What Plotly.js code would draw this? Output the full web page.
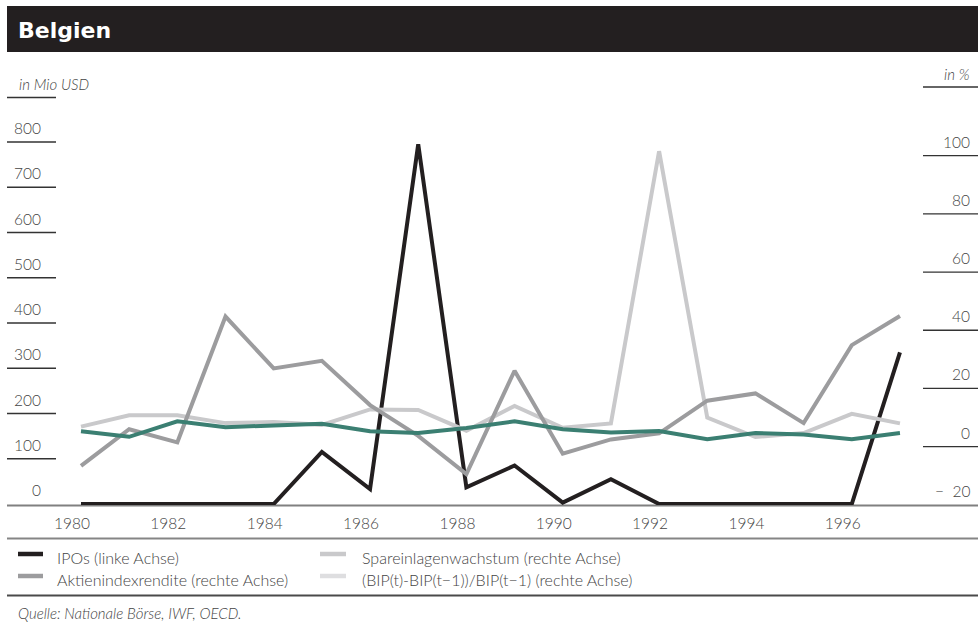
<!DOCTYPE html>
<html>
<head>
<meta charset="utf-8">
<script src="https://cdn.plot.ly/plotly-3.0.1.min.js"></script>
<style>html,body{margin:0;padding:0;background:#fff;}#chart{width:978px;height:625px;}</style>
</head>
<body>
<div id="chart"></div>
<script>
// ---- data ----
const years = [1980,1981,1982,1983,1984,1985,1986,1987,1988,1989,1990,1991,1992,1993,1994,1995,1996,1997];
const ipos = [0,0,0,0,0,115,33,795,37,85,3,55,0,0,0,0,0,335];
const aktienindexrendite = [-6.6,6.0,1.5,44.7,26.9,29.5,14.3,3.7,-9.4,26.1,-2.4,2.5,4.6,15.8,18.3,8.1,34.9,44.9];
const spareinlagenwachstum = [6.9,10.8,10.8,8.1,8.5,7.5,12.8,12.6,5.5,14.0,6.5,8.0,101.5,10.0,3.3,4.7,11.3,8.0];
const bipWachstum = [5.3,3.4,8.7,6.7,7.3,7.9,5.3,4.7,6.4,8.7,6.0,4.9,5.4,2.6,4.7,4.2,2.6,4.7];

const xTickYears = [1980,1982,1984,1986,1988,1990,1992,1994,1996];
const xTickText = ['1980','1982','1984','1986','1988','1990','1992','1994','1996'];
const leftTicks = [0,100,200,300,400,500,600,700,800];
const leftTickText = ['0','100','200','300','400','500','600','700','800'];
const rightTicks = [-20,0,20,40,60,80,100];
const rightTickText = ['\u2212\u00a0\u00a020','0','20','40','60','80','100'];

const legendNames = ['IPOs (linke Achse)','Aktienindexrendite (rechte Achse)','Spareinlagenwachstum (rechte Achse)','(BIP(t)-BIP(t\u22121))/BIP(t\u22121) (rechte Achse)'];
const legendColors = ['#231f20','#9c9c9e','#c9c9cb','#dedee0'];

// ---- styling ----
const FONT = 'Lato, "Open Sans", "DejaVu Sans", sans-serif';
const TXT = '#444444';
const WT = 300;
const W = 978, ML = 7, MR = 0, MT = 100, MB = 120;
const PW = W - ML - MR, PH = 625 - MT - MB;
const px = p => (p - ML) / PW;          // pixel x -> paper x
const py = p => (625 - MB - p) / PH;    // pixel y -> paper y

const traces = [
  {x: years, y: spareinlagenwachstum, yaxis: 'y2', mode: 'lines', line: {color: '#c9c9cb', width: 4}, showlegend: false, name: legendNames[2]},
  {x: years, y: aktienindexrendite, yaxis: 'y2', mode: 'lines', line: {color: '#9c9c9e', width: 4}, showlegend: false, name: legendNames[1]},
  {x: years, y: bipWachstum, yaxis: 'y2', mode: 'lines', line: {color: '#3b7f72', width: 4}, showlegend: false, name: legendNames[3]},
  {x: years, y: ipos, yaxis: 'y', mode: 'lines', line: {color: '#231f20', width: 4}, showlegend: false, name: legendNames[0]}
];

const shapes = [];
const annotations = [];
const f = (size, extra) => Object.assign({family: FONT, size: size, color: TXT, weight: WT}, extra || {});

// title bar
shapes.push({type: 'rect', xref: 'paper', yref: 'paper', x0: px(7), x1: px(978), y0: py(52), y1: py(6), fillcolor: '#231f20', line: {width: 0}, layer: 'below'});
// baseline
shapes.push({type: 'line', xref: 'paper', yref: 'paper', x0: px(7), x1: px(978), y0: py(505.5), y1: py(505.5), line: {color: '#808080', width: 2}, layer: 'below'});
// separators
shapes.push({type: 'line', xref: 'paper', yref: 'paper', x0: px(7), x1: px(978), y0: py(538.5), y1: py(538.5), line: {color: '#858585', width: 2}});
shapes.push({type: 'line', xref: 'paper', yref: 'paper', x0: px(7), x1: px(978), y0: py(595.5), y1: py(595.5), line: {color: '#4a4a4a', width: 2}});

// left ticks
leftTicks.forEach((v, i) => {
  if (i > 0) shapes.push({type: 'line', xref: 'paper', yref: 'y', x0: px(7), x1: px(56), y0: v, y1: v, line: {color: '#333', width: 1.3}, layer: 'below'});
  annotations.push({xref: 'paper', yref: 'y', x: px(43), y: v, xanchor: 'right', yanchor: 'middle', yshift: 14, text: leftTickText[i], showarrow: false, font: f(15.5)});
});
// right ticks
rightTicks.forEach((v, i) => {
  if (i > 0) shapes.push({type: 'line', xref: 'paper', yref: 'y2', x0: px(923), x1: px(978), y0: v, y1: v, line: {color: '#333', width: 1.3}, layer: 'below'});
  annotations.push({xref: 'paper', yref: 'y2', x: px(972), y: v, xanchor: 'right', yanchor: 'middle', yshift: 14, text: rightTickText[i], showarrow: false, font: f(15.5)});
});
// axis units
shapes.push({type: 'line', xref: 'paper', yref: 'paper', x0: px(7), x1: px(56), y0: py(97.5), y1: py(97.5), line: {color: '#333', width: 1.3}});
annotations.push({xref: 'paper', yref: 'paper', x: px(17), y: py(84), xanchor: 'left', yanchor: 'middle', text: '<i>in Mio USD</i>', showarrow: false, font: f(15)});
shapes.push({type: 'line', xref: 'paper', yref: 'paper', x0: px(923), x1: px(978), y0: py(87), y1: py(87), line: {color: '#333', width: 1.3}});
annotations.push({xref: 'paper', yref: 'paper', x: px(972), y: py(74), xanchor: 'right', yanchor: 'middle', text: '<i>in %</i>', showarrow: false, font: f(15)});

// legend (manual, two columns)
const legX = [[18, 43, 55], [18, 43, 55], [320, 346, 360], [320, 346, 360]];
const legY = [554, 576, 554, 576];
legendNames.forEach((name, i) => {
  shapes.push({type: 'line', xref: 'paper', yref: 'paper', x0: px(legX[i][0]), x1: px(legX[i][1]), y0: py(legY[i]), y1: py(legY[i]), line: {color: legendColors[i], width: 4.5}});
  annotations.push({xref: 'paper', yref: 'paper', x: px(legX[i][2]), y: py(legY[i] + 3), xanchor: 'left', yanchor: 'middle', text: name, showarrow: false, font: f(16)});
});
// source
annotations.push({xref: 'paper', yref: 'paper', x: px(16), y: py(613), xanchor: 'left', yanchor: 'middle', text: '<i>Quelle: Nationale Börse, IWF, OECD.</i>', showarrow: false, font: f(15)});

const layout = {
  width: 978, height: 625,
  margin: {l: ML, r: MR, t: MT, b: MB, pad: 0},
  paper_bgcolor: '#fff', plot_bgcolor: 'rgba(0,0,0,0)',
  showlegend: false,
  title: {text: '<b>Belgien</b>', xref: 'container', yref: 'container', x: 18 / 978, xanchor: 'left', y: 1 - 30 / 625, yanchor: 'middle', font: {family: '"DejaVu Sans", sans-serif', size: 22, color: '#ffffff'}},
  xaxis: {type: 'linear', range: [1978.464, 1998.62], showgrid: false, zeroline: false, showline: false, ticks: '',
          tickvals: xTickYears, ticktext: xTickText, ticklabelshift: -9, ticklabelstandoff: 7,
          tickfont: f(15.5), fixedrange: true},
  yaxis: {range: [-2.2, 892.8], showgrid: false, zeroline: false, showline: false, showticklabels: false, ticks: '', fixedrange: true},
  yaxis2: {range: [-20.03, 119.1], overlaying: 'y', side: 'right', showgrid: false, zeroline: false, showline: false, showticklabels: false, ticks: '', fixedrange: true},
  shapes: shapes,
  annotations: annotations
};

Plotly.newPlot('chart', traces, layout, {displayModeBar: false, staticPlot: true});
</script>
</body>
</html>
